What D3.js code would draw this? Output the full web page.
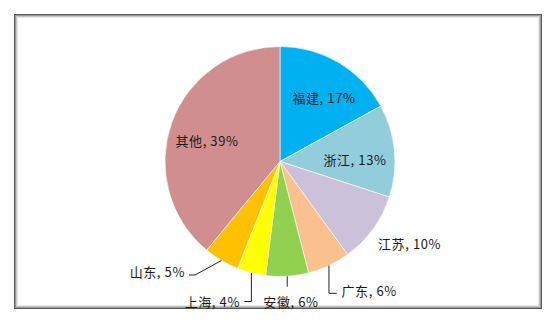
<!DOCTYPE html>
<html><head><meta charset="utf-8">
<script src="https://cdn.jsdelivr.net/npm/d3@7/dist/d3.min.js"></script>
<style>html,body{margin:0;padding:0;background:#fff;}svg{display:block;}</style>
</head><body>
<script>
const categories = ["福建","浙江","江苏","广东","安徽","上海","山东","其他"];
const values = [17,13,10,6,6,4,5,39];
const colors = ["#00B0F0","#92CDDC","#CCC1DA","#FAC090","#92D050","#FFFF00","#FFC000","#D08E8E"];

const W = 558, H = 324;
const svg = d3.select("body").append("svg").attr("width", W).attr("height", H);

// frame with soft shadow
const fx = 14, fy = 14, fw = 528, fh = 295;
const shades = ["#5a5a5a","#9a9a9a","#c8c8c8","#e6e6e6"];
shades.forEach((c,i)=>{
  svg.append("rect").attr("x", fx+0.5+i).attr("y", fy+0.5+i)
    .attr("width", fw-1-2*i).attr("height", fh-1-2*i)
    .attr("fill","none").attr("stroke",c).attr("stroke-width",1);
});
svg.append("rect").attr("x", fx+4).attr("y", fy+4).attr("width", fw-8).attr("height", fh-8).attr("fill","#fff");

const cx = 280, cy = 161.5, R = 115;
const g = svg.append("g").attr("transform", `translate(${cx},${cy})`);
const data = categories.map((c,i)=>({name:c, value:values[i], color:colors[i]}));
const pie = d3.pie().value(d=>d.value).sort(null).startAngle(0).endAngle(2*Math.PI);
const arcs = pie(data);
const arc = d3.arc().innerRadius(0).outerRadius(R);

g.selectAll("path.slice").data(arcs).join("path")
  .attr("class","slice").attr("d", arc)
  .attr("fill", d=>d.data.color).attr("stroke","#fff").attr("stroke-width",0.6);

// label layout: [dx,dy] of label anchor relative to center, anchor, leader path spec
const layout = {
  "福建": {x: 44, y: -64, anchor: "middle"},
  "浙江": {x: 75, y: -2, anchor: "middle"},
  "江苏": {x: 98, y: 81.5, anchor: "start"},
  "广东": {x: 61.5, y: 128.5, anchor: "start", leader: [[0,null],[0,131.8],[56.7,131.8]]},
  "安徽": {x: 11, y: 140, anchor: "middle", leader: [[0,null],[0,125.2]]},
  "上海": {x: -40, y: 139.5, anchor: "end", leader: [[0,null],[0,140],[-35.7,140]]},
  "山东": {x: -95, y: 110.2, anchor: "end", leader: [[0,null],[-85,113.5],[-91,113.5]]},
  "其他": {x: -73, y: -21, anchor: "middle"}
};

arcs.forEach(a=>{
  const L = layout[a.data.name];
  const pct = Math.round(a.data.value / d3.sum(values) * 100);
  if (L.leader) {
    const mid = (a.startAngle + a.endAngle)/2;
    const sx = R*Math.sin(mid), sy = -R*Math.cos(mid);
    const pts = L.leader.map((p,i)=> i===0 ? [sx, sy] : [p[0]===0 && i===1 && L.leader[1][0]===0 ? sx : p[0], p[1]]);
    // vertical legs keep start x
    for (let i=1;i<pts.length;i++){ if (L.leader[i][0]===0) pts[i][0]=sx; }
    g.append("path").attr("d", d3.line()(pts)).attr("fill","none")
      .attr("stroke","#222").attr("stroke-width",1);
  }
  g.append("text").attr("x", L.x).attr("y", L.y)
    .attr("text-anchor", L.anchor).attr("dominant-baseline","central")
    .attr("font-family","'Noto Sans CJK SC', 'Noto Sans', sans-serif")
    .attr("font-size", 13).attr("letter-spacing", 0.6).attr("fill","#1a1a1a")
    .text(`${a.data.name}, ${pct}%`);
});
</script>
</body></html>
